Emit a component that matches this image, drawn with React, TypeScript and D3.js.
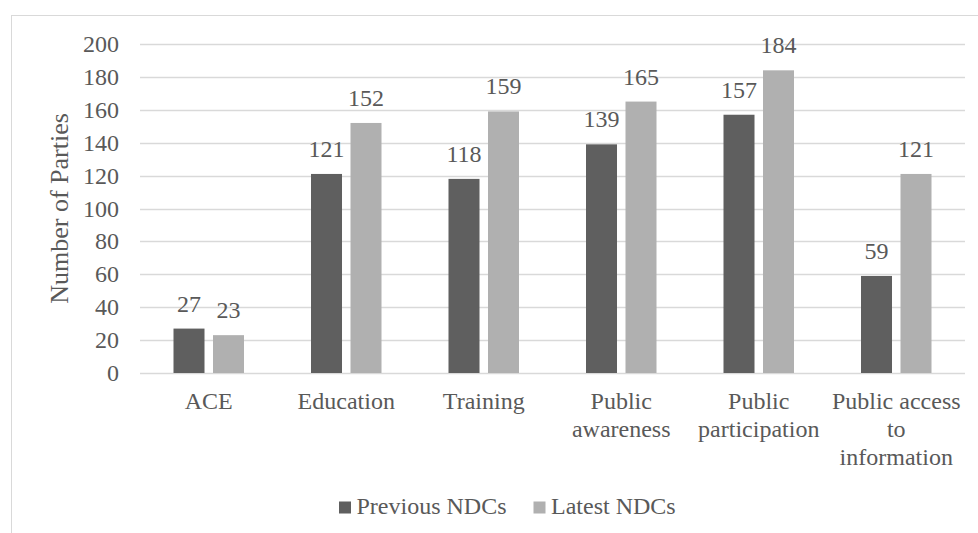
import React, { useMemo } from "react";
import * as d3 from "d3";

// Categories and counts of Parties per NDC round
const categories = [
  "ACE",
  "Education",
  "Training",
  "Public awareness",
  "Public participation",
  "Public access to information",
];
const previousNDCs = [27, 121, 118, 139, 157, 59];
const latestNDCs = [23, 152, 159, 165, 184, 121];
const seriesNames = ["Previous NDCs", "Latest NDCs"];
const yTicks = [0, 20, 40, 60, 80, 100, 120, 140, 160, 180, 200];

const W = 978;
const H = 533;
const FONT = "'Liberation Serif', 'DejaVu Serif', serif";
const FS = 24;
const TEXT = "#595959";
const GRID = "#d9d9d9";
const COLORS = ["#5f5f5f", "#b0b0b0"];

const plot = { left: 140, right: 965, top: 44, bottom: 373 };

function measure(text: string): number {
  const c = document.createElement("canvas").getContext("2d");
  if (!c) return text.length * FS * 0.5;
  c.font = `${FS}px ${FONT}`;
  return c.measureText(text).width;
}

function wrap(label: string, maxWidth: number): string[] {
  const words = label.split(" ");
  const lines: string[] = [];
  let cur = "";
  for (const w of words) {
    const next = cur ? cur + " " + w : w;
    if (cur && measure(next) > maxWidth) {
      lines.push(cur);
      cur = w;
    } else {
      cur = next;
    }
  }
  if (cur) lines.push(cur);
  return lines;
}

const textStyle: React.CSSProperties = { fontFamily: FONT, fontSize: FS };

export default function App() {
  const x = d3
    .scaleBand<string>()
    .domain(categories)
    .range([plot.left, plot.right])
    .padding(0);
  const y = d3.scaleLinear().domain([0, 200]).range([plot.bottom, plot.top]);

  const barSpan = 70.5;
  const sub = d3
    .scaleBand<number>()
    .domain([0, 1])
    .range([-barSpan / 2, barSpan / 2])
    .paddingInner(0.215)
    .paddingOuter(0);

  const series = [previousNDCs, latestNDCs];

  const wrapped = useMemo(
    () => categories.map((c) => wrap(c, x.bandwidth() - 1)),
    []
  );

  return (
    <svg
      width={W}
      height={H}
      style={{ position: "absolute", left: 0, top: 0, background: "#fff", fontFamily: FONT }}
    >
      {/* chart frame */}
      <rect
        x={11.5}
        y={15.5}
        width={W + 20}
        height={H + 20}
        fill="#fff"
        stroke={GRID}
        strokeWidth={1}
      />

      {/* gridlines */}
      {yTicks.map((t) => (
        <line
          key={t}
          x1={plot.left}
          x2={plot.right}
          y1={Math.round(y(t)) + 0.5}
          y2={Math.round(y(t)) + 0.5}
          stroke={GRID}
          strokeWidth={1.3}
        />
      ))}

      {/* y tick labels */}
      {yTicks.map((t) => (
        <text
          key={t}
          x={119}
          y={y(t) + 8}
          textAnchor="end"
          style={textStyle}
          fill={TEXT}
        >
          {t}
        </text>
      ))}

      {/* y axis title */}
      <text
        transform={`translate(68, ${(plot.top + plot.bottom) / 2}) rotate(-90)`}
        textAnchor="middle"
        style={{ fontFamily: FONT, fontSize: 26 }}
        fill={TEXT}
      >
        Number of Parties
      </text>

      {/* bars and value labels */}
      {categories.map((c, i) => {
        const cx = (x(c) ?? 0) + x.bandwidth() / 2;
        return (
          <g key={c}>
            {series.map((s, k) => {
              const bx = cx + (sub(k) ?? 0);
              const v = s[i];
              return (
                <g key={k}>
                  <rect
                    x={bx}
                    y={y(v)}
                    width={sub.bandwidth()}
                    height={y(0) - y(v)}
                    fill={COLORS[k]}
                  />
                  <text
                    x={bx + sub.bandwidth() / 2}
                    y={y(v) - 17}
                    textAnchor="middle"
                    style={textStyle}
                    fill={TEXT}
                  >
                    {v}
                  </text>
                </g>
              );
            })}
          </g>
        );
      })}

      {/* category labels */}
      {categories.map((c, i) => {
        const cx = (x(c) ?? 0) + x.bandwidth() / 2;
        return (
          <text key={c} textAnchor="middle" style={textStyle} fill={TEXT}>
            {wrapped[i].map((line, j) => (
              <tspan key={j} x={cx} y={408.5 + j * 28}>
                {line}
              </tspan>
            ))}
          </text>
        );
      })}

      {/* legend */}
      {seriesNames.map((n, k) => {
        const lx = k === 0 ? 339 : 533.5;
        return (
          <g key={n}>
            <rect x={lx} y={501.5} width={12} height={12} fill={COLORS[k]} />
            <text x={lx + 17.5} y={514} style={textStyle} fill={TEXT}>
              {n}
            </text>
          </g>
        );
      })}
    </svg>
  );
}
